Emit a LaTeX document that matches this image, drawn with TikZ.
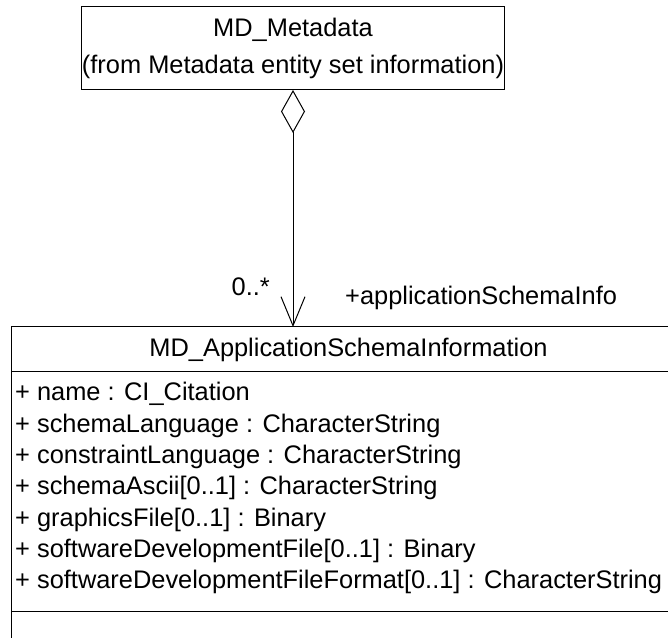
\documentclass[tikz,border=0pt]{standalone}
\usepackage{fontspec}
\setmainfont{Liberation Sans}
\usetikzlibrary{arrows.meta, positioning}

\begin{document}
\begin{tikzpicture}[x=1pt, y=1pt,
  umlfont/.style={font=\fontsize{25.4}{37}\selectfont},
  classbox/.style={draw, line width=1pt, inner sep=0pt, outer sep=0pt, align=center, umlfont},
  compbox/.style={draw, line width=1pt, inner sep=0pt, outer sep=0pt, minimum width=675pt},
  attrtext/.style={anchor=base west, inner sep=0pt, umlfont},
  aggr/.style={line width=1pt, {Diamond[open, length=43pt, width=24pt]}-{Straight Barb[length=29pt, width=24pt]}}]
\def\rowgap{31.3}
\useasboundingbox (0,0) rectangle (668,637);
\clip (0,0) rectangle (668,637);

\node[classbox, minimum width=420pt, minimum height=83pt] (meta) at (293,588.5)
  {MD\_Metadata\\(from Metadata entity set information)};

\node[classbox, minimum width=675pt, minimum height=45pt] (appinfo) at (348.5,287.5)
  {MD\_ApplicationSchemaInformation};
\node[compbox, minimum height=239pt, below=0pt of appinfo] (attrs) {};
\node[compbox, minimum height=60pt, below=0pt of attrs] (ops) {};

\foreach \attr [count=\i from 0] in {%
  + name : CI\_Citation,
  + schemaLanguage : CharacterString,
  + constraintLanguage : CharacterString,
  + schemaAscii[0..1] : CharacterString,
  + graphicsFile[0..1] : Binary,
  + softwareDevelopmentFile[0..1] : Binary,
  + softwareDevelopmentFileFormat[0..1] : CharacterString}
  \node[attrtext] (attr\i) at ([xshift=4pt, yshift=-29pt-\i*\rowgap]attrs.north west) {\attr};

\coordinate (tip) at (meta.south |- appinfo.north);
\draw[aggr] (meta.south) -- (tip);
\node[umlfont, anchor=base east, inner sep=0pt] (mult) at ([xshift=-23pt, yshift=31pt]tip) {0..*};
\node[umlfont, anchor=base west, inner sep=0pt] (role) at ([xshift=52pt, yshift=22pt]tip) {+applicationSchemaInfo};
\end{tikzpicture}
\end{document}
